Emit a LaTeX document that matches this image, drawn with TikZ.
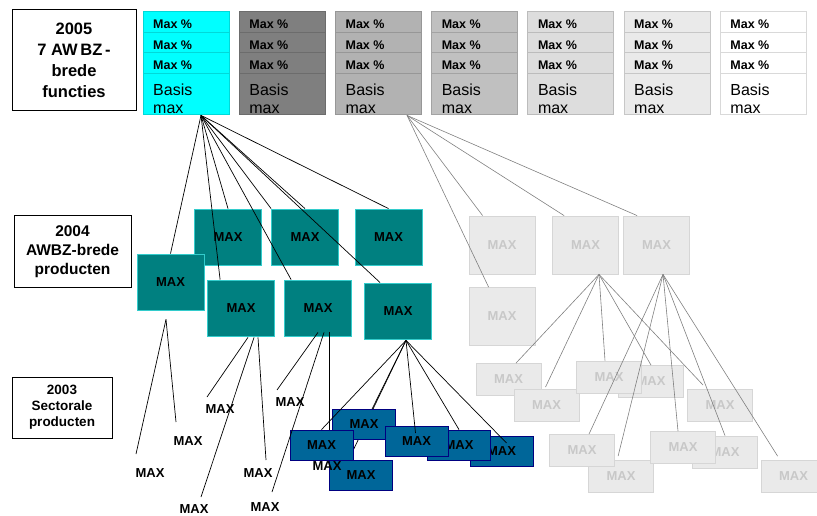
\documentclass[tikz,border=0pt]{standalone}
\usepackage{fontspec}
\setmainfont{Liberation Sans}
\usetikzlibrary{calc}
\definecolor{fncyan}{HTML}{00FFFF}
\definecolor{fngrayA}{HTML}{7F7F7F}
\definecolor{fngrayB}{HTML}{B2B2B2}
\definecolor{fngrayC}{HTML}{C0C0C0}
\definecolor{fngrayD}{HTML}{DDDDDD}
\definecolor{fngrayE}{HTML}{EAEAEA}
\definecolor{prodfill}{HTML}{008080}
\definecolor{prodline}{HTML}{33CCCC}
\definecolor{fadefill}{HTML}{EAEAEA}
\definecolor{fadeline}{HTML}{D6D6D6}
\definecolor{fadetext}{HTML}{C8C8C8}
\definecolor{secfill}{HTML}{006699}
\definecolor{secline}{HTML}{000080}
\definecolor{fadelink}{HTML}{808080}
\begin{document}
\begin{tikzpicture}[x=1pt,y=-1pt,
    lvlbox/.style={draw=black, line width=0.9pt, fill=white, align=center, inner sep=0pt},
    colbox/.style={minimum width=86pt, minimum height=103pt, line width=0.8pt, inner sep=0pt},
    pct/.style={anchor=west, inner sep=0pt, font=\bfseries\fontsize{12.5}{14}\selectfont},
    basis/.style={anchor=west, inner sep=0pt, align=left, font=\fontsize{16}{18}\selectfont},
    maxfont/.style={font=\bfseries\fontsize{13}{14}\selectfont},
    prod/.style={maxfont, draw=prodline, fill=prodfill, line width=0.8pt, minimum width=67pt, minimum height=56pt},
    fadeprod/.style={maxfont, text=fadetext, draw=fadeline, fill=fadefill, line width=0.8pt, minimum width=66pt, minimum height=58pt},
    fadesec/.style={maxfont, text=fadetext, draw=fadeline, fill=fadefill, line width=0.8pt, minimum width=65pt, minimum height=32pt},
    sec/.style={maxfont, draw=secline, fill=secfill, line width=0.8pt, minimum width=63pt, minimum height=30pt},
    freemax/.style={maxfont, inner sep=0pt},
    link/.style={black, line width=0.7pt},
    flink/.style={fadelink, line width=0.6pt}]
\useasboundingbox (0,0) rectangle (817,516);

% Niveaus
\node[lvlbox, minimum width=124pt, minimum height=101pt, font=\bfseries\fontsize{16.5}{21}\selectfont] (y2005) at (74,60) {2005\\7 AW\,BZ\,-\\brede\\functies};
\node[lvlbox, minimum width=117pt, minimum height=72pt, font=\bfseries\fontsize{15.5}{19}\selectfont] (y2004) at (72.5,251.5) {2004\\AWBZ-brede\\producten};
\node[lvlbox, line width=0.7pt, minimum width=100pt, minimum height=61pt, font=\bfseries\fontsize{13.5}{16}\selectfont] (y2003) at (62,407.5) {2003\\Sectorale\\producten};

% Functies 2005
\foreach \fc [count=\i] in {fncyan,fngrayA,fngrayB,fngrayC,fngrayD,fngrayE,white} {
  \pgfmathsetmacro\xl{143+96.2*(\i-1)}
  \node[colbox, fill=\fc, draw=\fc!85!black] (c\i) at (\xl+43,63) {};
  \foreach \yy in {32,52.5,73}
    \draw[\fc!85!black, line width=0.8pt] (\xl,\yy) -- ++(86,0);
  \foreach \yy in {24.5,45,65.5}
    \node[pct] at (\xl+10,\yy) {Max \%};
  \node[basis] at (\xl+10,98.5) {Basis\\max};
}

% Producten 2004
\node[prod] (B) at (228,237) {MAX};
\node[prod] (C) at (305,237) {MAX};
\node[prod] (D) at (388.5,237) {MAX};
\node[prod] (A) at (170.5,282) {MAX};
\node[prod] (E) at (241,308) {MAX};
\node[prod] (F) at (318,308) {MAX};
\node[prod] (G) at (398,311) {MAX};
\node[fadeprod] (H) at (502,245) {MAX};
\node[fadeprod] (I) at (585.5,245) {MAX};
\node[fadeprod] (J) at (656.5,245) {MAX};
\node[fadeprod] (K) at (502,316.5) {MAX};

\coordinate (fan1) at ($(c1.south)+(15,0.5)$);
\foreach \t in {A.north, B.north, C.north west, C.north, D.north}
  \draw[link] (fan1) -- (\t);
\draw[link] (fan1) -- ($(E.north west)+(13,0)$);
\draw[link] (fan1) -- ($(F.north west)+(7,0)$);
\draw[link] (fan1) -- ($(G.north west)+(16,0)$);

\coordinate (fan3) at ($(c3.south)+(28.6,0.5)$);
\draw[flink] (fan3) -- ($(H.north west)+(14,0)$);
\draw[flink] (fan3) -- ($(I.north west)+(12,0)$);
\draw[flink] (fan3) -- ($(J.north west)+(14,0)$);
\draw[flink] (fan3) -- ($(K.north west)+(20,0)$);

% Sectorale producten 2003 (grijs)
\node[fadesec] (L1) at (508.5,379.5) {MAX};
\node[fadesec] (L2) at (546.5,405.5) {MAX};
\node[fadesec] (L4) at (651,381.5) {MAX};
\node[fadesec] (L3) at (609,377) {MAX};
\node[fadesec] (L5) at (720,405.5) {MAX};
\node[fadesec] (L7) at (621,476.5) {MAX};
\node[fadesec] (L6) at (582,450.5) {MAX};
\node[fadesec] (L9) at (725,452) {MAX};
\node[fadesec] (L8) at (683,447.5) {MAX};
\node[fadesec] (L10) at (793.5,476.5) {MAX};

\coordinate (fanI) at ($(I.south)+(13.5,0)$);
\draw[flink] (fanI) -- ($(L1.north)+(7.5,0)$);
\draw[flink] (fanI) -- ($(L2.north)+(-1,-2)$);
\draw[flink] (fanI) -- ($(L3.north)+(-4,0)$);
\draw[flink] (fanI) -- (L4.north);
\draw[flink] (fanI) -- ($(L5.north west)+(16,-4)$);

\coordinate (fanJ) at ($(J.south)+(6.5,0)$);
\draw[flink] (fanJ) -- ($(L6.north)+(7,0)$);
\draw[flink] (fanJ) -- ($(L7.north west)+(30,-4)$);
\draw[flink] (fanJ) -- ($(L8.north)+(-5,0)$);
\draw[flink] (fanJ) -- (L9.north);
\draw[flink] (fanJ) -- ($(L10.north west)+(17,-4)$);

% Sectorale producten 2003 (blauw)
\coordinate (fanG) at ($(G.south)+(8,1)$);
\coordinate (eG) at (348,461);
\draw[link] (fanG) -- (eG);
\node[sec] (S2) at (364,424.5) {MAX};
\node[sec] (S1) at (321.5,445) {MAX};
\node[sec] (S6) at (361,475.5) {MAX};
\node[sec] (S5) at (501.5,451) {MAX};
\node[sec] (S4) at (459,445) {MAX};
\node[sec] (S3) at (416.5,441) {MAX};
\draw[link] (fanG) -- (S1.north);
\draw[link] (fanG) -- ($(S2.north)+(8,0)$);
\draw[link] (fanG) -- ($(S3.center)+(-1,-8)$);
\draw[link] (fanG) -- (S4.north);
\draw[link] (fanG) -- ($(S5.center)+(5,-8)$);

% Losse producten
\coordinate (fanA) at ($(A.south)+(-4.5,9)$);
\node[freemax] (mA1) at (150,473) {MAX};
\node[freemax] (mA2) at (188,441) {MAX};
\coordinate (eA1) at (136,454);
\coordinate (eA2) at (176,422);
\draw[link] (fanA) -- (eA1);
\draw[link] (fanA) -- (eA2);

\node[freemax] (mE1) at (220,409) {MAX};
\node[freemax] (mE2) at (194,509.5) {MAX};
\node[freemax] (mE3) at (258,473) {MAX};
\coordinate (eE1) at (207,397);
\coordinate (eE2) at (201,497);
\coordinate (eE3) at (266,460);
\draw[link] ($(E.south)+(7,1)$) -- (eE1);
\draw[link] ($(E.south)+(13,1)$) -- (eE2);
\draw[link] ($(E.south)+(17,1)$) -- (eE3);

\node[freemax] (mF1) at (290,402) {MAX};
\node[freemax] (mF2) at (265,507) {MAX};
\coordinate (eF1) at (277,390);
\coordinate (eF2) at (272,492);
\draw[link] ($(F.south)+(0,-4)$) -- (eF1);
\draw[link] ($(F.south)+(6,-4)$) -- (eF2);
\draw[link] ($(F.south)+(11,-4)$) -- ($(S1.north)+(7.5,0)$);

\node[freemax] (mG) at (327,466) {MAX};
\end{tikzpicture}
\end{document}
